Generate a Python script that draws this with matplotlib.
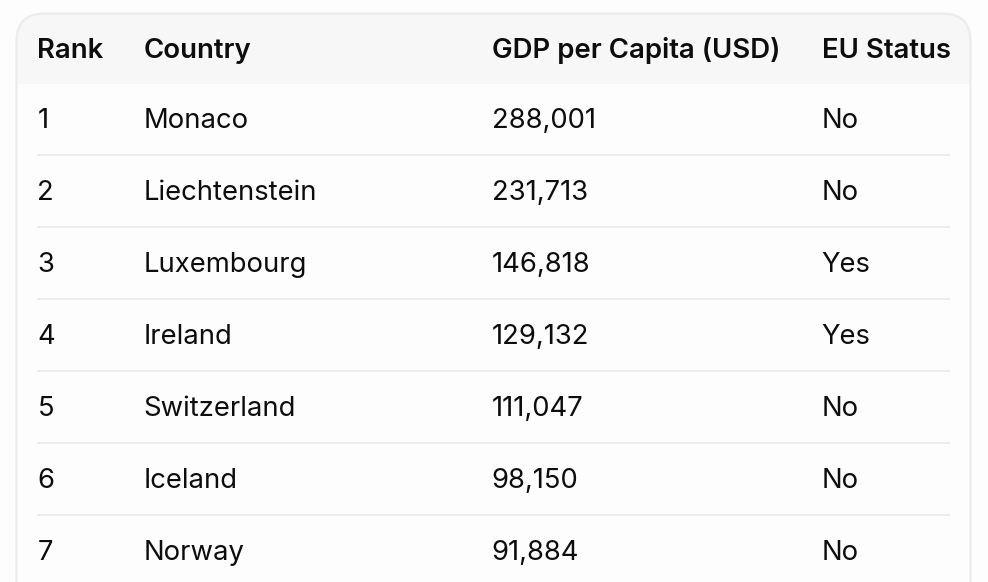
import matplotlib
matplotlib.use("Agg")
import matplotlib.pyplot as plt
import matplotlib.patches as patches

# table contents
HEADERS = ["Rank", "Country", "GDP per Capita (USD)", "EU Status"]
RANKS = ["1", "2", "3", "4", "5", "6", "7"]
COUNTRIES = ["Monaco", "Liechtenstein", "Luxembourg", "Ireland", "Switzerland", "Iceland", "Norway"]
GDP = ["288,001", "231,713", "146,818", "129,132", "111,047", "98,150", "91,884"]
EU_STATUS = ["No", "No", "Yes", "Yes", "No", "No", "No"]

WIDTH = 988
HEIGHT = 582
COL_X = [37.4, 143.4, 491.6, 821.5]
HEADER_Y = 48
FIRST_ROW_Y = 118
ROW_H = 72
HEADER_SIZE = 19.85
FONT_SIZE = 19.75
TEXT_COLOR = "#0d0d0d"
BG_COLOR = "#fdfdfd"
HEADER_COLOR = "#f7f7f7"
LINE_COLOR = "#ececec"

plt.rcParams['font.family'] = ['Inter', 'DejaVu Sans']

fig = plt.figure(figsize=(WIDTH / 100, HEIGHT / 100), dpi=100, facecolor=BG_COLOR)
ax = fig.add_axes([0, 0, 1, 1])
ax.set_xlim(0, WIDTH)
ax.set_ylim(HEIGHT, 0)
ax.axis('off')

# card, runs off the bottom of the picture
card = patches.FancyBboxPatch((16.5, 13.5), 954, 640, boxstyle="round,pad=0,rounding_size=28",
                              facecolor=BG_COLOR, edgecolor='none', zorder=1)
ax.add_patch(card)

header = patches.Rectangle((16, 13), 955, 71, facecolor=HEADER_COLOR, edgecolor='none', zorder=2)
ax.add_patch(header)
header.set_clip_path(card)

border = patches.FancyBboxPatch((16.5, 13.5), 954, 640, boxstyle="round,pad=0,rounding_size=28",
                                facecolor='none', edgecolor=LINE_COLOR, linewidth=1.6, zorder=3)
ax.add_patch(border)

for x, label in zip(COL_X, HEADERS):
    ax.text(x, HEADER_Y, label, fontsize=HEADER_SIZE, fontweight='semibold', color=TEXT_COLOR,
            ha='left', va='center_baseline', zorder=5)

for i in range(len(RANKS)):
    y = FIRST_ROW_Y + i * ROW_H
    row = [RANKS[i], COUNTRIES[i], GDP[i], EU_STATUS[i]]
    for x, value in zip(COL_X, row):
        ax.text(x, y, value, fontsize=FONT_SIZE, color=TEXT_COLOR,
                ha='left', va='center_baseline', zorder=5)
    if i < len(RANKS) - 1:
        ax.plot([37, 950], [y + 37, y + 37], color=LINE_COLOR, linewidth=1.4,
                solid_capstyle='butt', zorder=4)

fig.savefig("out.png", dpi=100, facecolor=fig.get_facecolor())
plt.close(fig)
